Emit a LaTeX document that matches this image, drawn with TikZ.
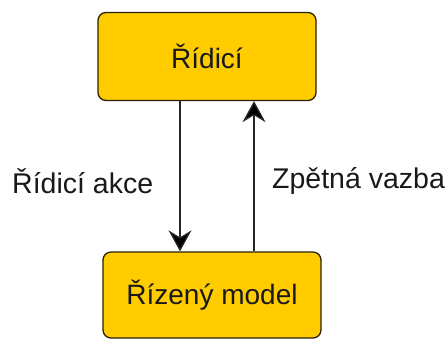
\documentclass[tikz,border=0pt]{standalone}
\usepackage{fontspec}
\setmainfont{Liberation Sans}
\usetikzlibrary{arrows.meta}
\definecolor{boxfill}{HTML}{FFCC00}
\definecolor{boxline}{HTML}{2A2200}
\begin{document}
\begin{tikzpicture}[x=1pt,y=-1pt,
  block/.style={draw=boxline, line width=1.3pt, fill=boxfill, rounded corners=8pt,
    font=\fontsize{28}{32}\selectfont, text=black!90},
  lbl/.style={font=\fontsize{28.5}{32}\selectfont, text=black!90, inner sep=0pt},
  link/.style={line width=1.3pt, draw=black!85,
    -{Stealth[length=21pt,width=23pt,inset=7pt,fill=black]}}]
  \useasboundingbox (0,0) rectangle (448,340);
  \node[block, minimum width=218pt, minimum height=88pt] (ctl) at (207,56.5) {Řídicí};
  \node[block, minimum width=218pt, minimum height=86pt] (plant) at (212,295) {Řízený model};
  \draw[link] (ctl.south -| 180,0) -- (plant.north -| 180,0);
  \draw[link] (plant.north -| 254,0) -- (ctl.south -| 254,0);
  \node[lbl, anchor=west] (act) at (12,181) {Řídicí akce};
  \node[lbl, anchor=west] (fb) at (272,181) {Zpětná vazba};
\end{tikzpicture}
\end{document}
